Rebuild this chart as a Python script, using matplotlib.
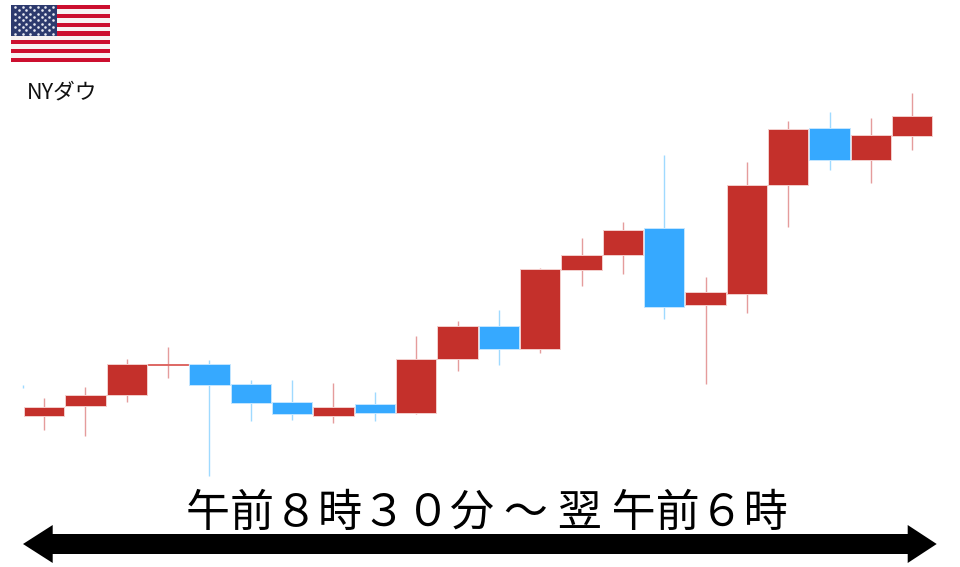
# plot.py

import matplotlib
matplotlib.use("Agg")
import matplotlib.pyplot as plt
from matplotlib.patches import Polygon, Rectangle

plt.rcParams["font.family"] = ["Noto Sans CJK JP", "DejaVu Sans"]

# ==========================================================
# DATA (price scale is arbitrary)
# ==========================================================

opens = [151, 160.7, 172, 202, 203, 182.3, 164.3, 151, 162.3, 154, 208,
         240.3, 217.3, 296.3, 311.7, 338.7, 261.3, 272.7, 381.3, 438.7, 407, 430.7]
closes = [159.3, 171.7, 203, 203, 181.3, 163.7, 153, 159.3, 154, 207.7, 241,
          217.3, 297.3, 311.3, 337, 259.7, 274.7, 381.3, 437.7, 407, 431.3, 451]
highs = [168.7, 179.3, 207.7, 219.7, 207, 187, 187, 184, 174.7, 231, 246,
         256.7, 298.3, 328.3, 344.3, 411.7, 289.7, 404.7, 445.3, 454.7, 449, 473.7]
lows = [136.3, 130.3, 164.3, 189, 90.3, 145.7, 147, 143.7, 145.7, 153, 195.3,
        202, 213.3, 280.3, 292.7, 247.3, 182.3, 254, 340, 396.7, 383.3, 416.3]

# stub of the previous candle at the left edge
stub_high = 182
stub_low = 179

title = "午前８時３０分 ～ 翌 午前６時"
label = "NYダウ"

RED = "#C4302B"
BLUE = "#36A9FF"
RED_WICK = "#E59C9C"
BLUE_WICK = "#9FDAFF"
RED_EDGE = "#F3CFCD"
BLUE_EDGE = "#C4E6FF"

W = 960
H = 567
X0 = 44.1
STEP = 41.34

# ==========================================================
# FIGURE
# ==========================================================

fig = plt.figure(figsize=(W / 100, H / 100), dpi=100, facecolor="white")

ax = fig.add_axes([0, 0, 1, 1])
ax.set_xlim(-X0 / STEP, (W - X0) / STEP)
ax.set_ylim(-0.5, H - 0.5)
ax.axis("off")

# ==========================================================
# CANDLES
# ==========================================================

for i in range(len(opens)):

    up = closes[i] >= opens[i]
    doji = abs(closes[i] - opens[i]) < 2

    ax.vlines(
        i,
        lows[i],
        highs[i],
        color=RED_WICK if up else BLUE_WICK,
        linewidth=1.0,
        zorder=1
    )

    if doji:
        edge = "#DE6A66"
    else:
        edge = RED_EDGE if up else BLUE_EDGE

    ax.bar(
        i,
        abs(closes[i] - opens[i]),
        bottom=min(opens[i], closes[i]),
        width=0.975,
        color=RED if up else BLUE,
        edgecolor=edge,
        linewidth=0.7,
        zorder=2
    )

ax.vlines(-0.51, stub_low, stub_high, color=BLUE_WICK, linewidth=1.0)

# ==========================================================
# OVERLAY IN PIXELS (flag, texts, arrow)
# ==========================================================

over = fig.add_axes([0, 0, 1, 1])
over.set_xlim(0, W)
over.set_ylim(H, 0)
over.axis("off")

# flag
flag_l, flag_r, flag_t, flag_b = 11.3, 110, 5, 62
stripe_h = (flag_b - flag_t) / 13

for s in range(13):
    over.add_patch(Rectangle(
        (flag_l, flag_t + s * stripe_h),
        flag_r - flag_l,
        stripe_h,
        facecolor="#CC0F2F" if s % 2 == 0 else "#F7F3F3",
        edgecolor="none"
    ))

canton_r, canton_b = 56.7, 5 + 7 * stripe_h

over.add_patch(Rectangle(
    (flag_l, flag_t),
    canton_r - flag_l,
    canton_b - flag_t,
    facecolor="#2D3A6E",
    edgecolor="none"
))

star_x = []
star_y = []
for r in range(9):
    n = 6 if r % 2 == 0 else 5
    for c in range(n):
        star_x.append(flag_l + (canton_r - flag_l) * (c + (0.5 if r % 2 == 0 else 1.0)) / 6)
        star_y.append(flag_t + (canton_b - flag_t) * (r + 0.6) / 9.2)

over.scatter(star_x, star_y, s=3.5, color="#E8EAF2", linewidths=0, zorder=3)

# label
over.text(62.5, 92.5, label, fontsize=15.6, color="#111111", ha="center", va="center")

# title
over.text(487, 513, title, fontsize=31.7, fontweight="normal", color="black",
          ha="center", va="center")

# arrow
shaft_t, shaft_b = 534, 554
head_t, head_b = 525, 563
mid = (shaft_t + shaft_b) / 2

over.add_patch(Polygon(
    [
        (23, mid), (52.7, head_t), (52.7, shaft_t),
        (907.7, shaft_t), (907.7, head_t), (936.7, mid),
        (907.7, head_b), (907.7, shaft_b), (52.7, shaft_b), (52.7, head_b)
    ],
    closed=True,
    facecolor="black",
    edgecolor="none"
))

fig.savefig("out.png", dpi=100)
